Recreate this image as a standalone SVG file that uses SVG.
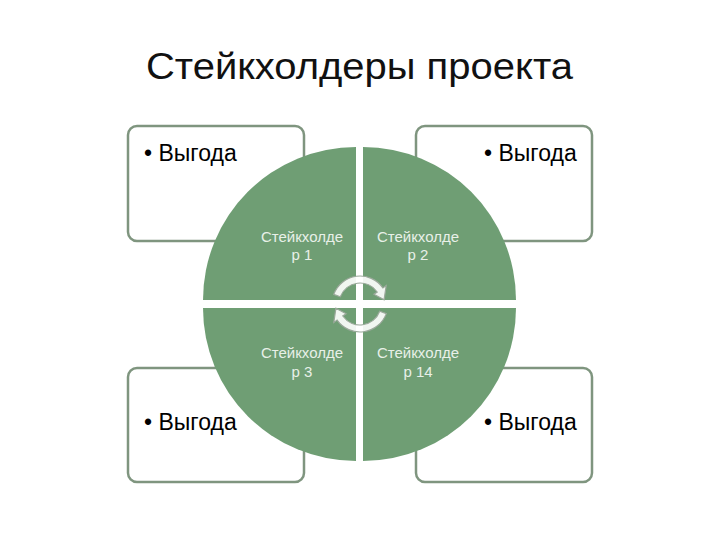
<svg xmlns="http://www.w3.org/2000/svg" width="720" height="540" viewBox="0 0 720 540">
  <defs>
    <style>
      .box { fill: #ffffff; stroke: #7f957f; stroke-width: 2.5; }
      .quad { fill: #6f9e74; }
      .title { font-family: "Liberation Sans", Arial, sans-serif; font-size: 36px; fill: #111111; }
      .benefit { font-family: "Liberation Sans", Arial, sans-serif; font-size: 23px; fill: #000000; }
      .qtext { font-family: "Liberation Sans", Arial, sans-serif; font-size: 15px; fill: #e8f0e8; text-anchor: middle; }
      .cycle { fill: #ffffff; fill-opacity: 0.9; stroke: #9aa89a; stroke-width: 1.2; }
    </style>
  </defs>
  <rect width="720" height="540" fill="#ffffff"/>

  <text class="title" x="146" y="79" textLength="427" lengthAdjust="spacingAndGlyphs">Стейкхолдеры проекта</text>

  <g id="box-tl">
    <rect class="box" x="128" y="126" width="176" height="115" rx="9"/>
    <text class="benefit" x="144" y="161">• Выгода</text>
  </g>
  <g id="box-tr">
    <rect class="box" x="416" y="126" width="176" height="115" rx="9"/>
    <text class="benefit" x="484" y="161">• Выгода</text>
  </g>
  <g id="box-bl">
    <rect class="box" x="128" y="368" width="176" height="114" rx="9"/>
    <text class="benefit" x="144" y="430">• Выгода</text>
  </g>
  <g id="box-br">
    <rect class="box" x="416" y="368" width="176" height="114" rx="9"/>
    <text class="benefit" x="484" y="430">• Выгода</text>
  </g>

  <g id="q1">
    <path class="quad" d="M356,300 L203,300 A153,153 0 0 1 356,147 Z"/>
    <text class="qtext" x="302" y="242">Стейкхолде</text>
    <text class="qtext" x="302" y="260">р 1</text>
  </g>
  <g id="q2">
    <path class="quad" d="M363,300 L363,147 A153,153 0 0 1 516,300 Z"/>
    <text class="qtext" x="418" y="242">Стейкхолде</text>
    <text class="qtext" x="418" y="260">р  2</text>
  </g>
  <g id="q3">
    <path class="quad" d="M356,308 L356,461 A153,153 0 0 1 203,308 Z"/>
    <text class="qtext" x="302" y="358">Стейкхолде</text>
    <text class="qtext" x="302" y="377">р 3</text>
  </g>
  <g id="q4">
    <path class="quad" d="M363,308 L516,308 A153,153 0 0 1 363,461 Z"/>
    <text class="qtext" x="418" y="358">Стейкхолде</text>
    <text class="qtext" x="418" y="377">р 14</text>
  </g>

  <g id="connectors">
    <path class="cycle" d="M333.7,294.4 A28,28 0 0 1 382.9,287.9 L386.2,285.6 L384.1,299.7 L373.9,294.2 L377.2,292.0 A21,21 0 0 0 340.3,296.8 Z"/>
    <path class="cycle" transform="rotate(180 360 304)" d="M333.7,294.4 A28,28 0 0 1 382.9,287.9 L386.2,285.6 L384.1,299.7 L373.9,294.2 L377.2,292.0 A21,21 0 0 0 340.3,296.8 Z"/>
  </g>
</svg>
